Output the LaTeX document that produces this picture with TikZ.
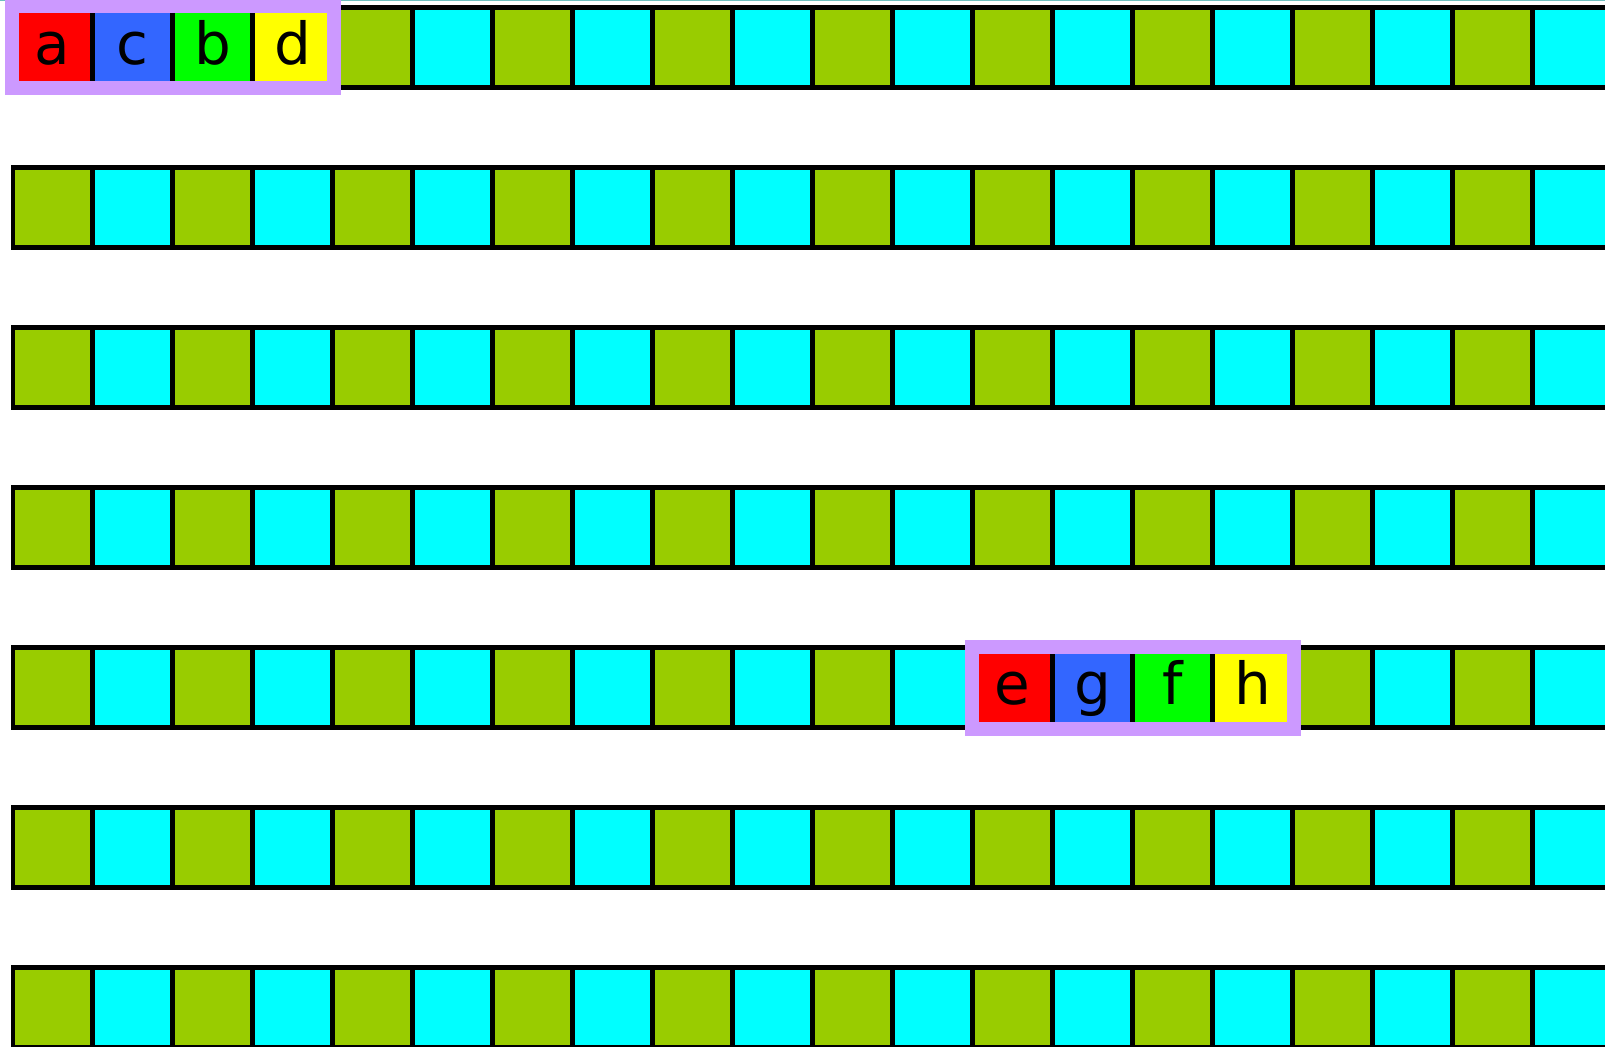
\documentclass[tikz,border=0pt]{standalone}
\usepackage{fontspec}
\setmainfont{DejaVu Sans}
\definecolor{cellgreen}{RGB}{153,204,0}
\definecolor{cellcyan}{RGB}{0,255,255}
\definecolor{framelav}{RGB}{204,153,255}
\definecolor{lred}{RGB}{255,0,0}
\definecolor{lblue}{RGB}{51,102,255}
\definecolor{lgreen}{RGB}{0,255,0}
\definecolor{lyellow}{RGB}{255,255,0}
\definecolor{topteal}{RGB}{110,190,190}
\tikzset{
  lett/.style={anchor=base, inner sep=0pt, text=black, font=\fontsize{58}{60}\selectfont},
  hiframe/.style={draw=framelav, line width=14pt},
}
\begin{document}
\begin{tikzpicture}[x=1pt,y=-1pt]
\useasboundingbox (0,0) rectangle (1605,1046);
\clip (0,0) rectangle (1605,1046);
\fill[topteal] (0,0) rectangle (1605,1.2);
\foreach \r in {0,...,6} {
  \pgfmathsetmacro\rowy{10+160*\r}
  \fill[black] (10.5,\rowy-4.7) rectangle (1615,\rowy+79.6);
  \foreach \i in {0,2,...,18} {
    \fill[cellgreen] (15+80*\i,\rowy) rectangle +(75,75);
  }
  \foreach \i in {1,3,...,19} {
    \fill[cellcyan] (15+80*\i,\rowy) rectangle +(75,75);
  }
}
% first highlighted group (row 0, cells 0-3)
\foreach \j/\col/\t in {0/lred/a,1/lblue/c,2/lgreen/b,3/lyellow/d} {
  \fill[\col] (15+80*\j,10) rectangle +(75,75);
  \node[lett] (L\t) at (52.5+80*\j,64.5) {\t};
}
\draw[hiframe] (11.5,6.5) rectangle (333.5,88.5);
% second highlighted group (row 4, cells 12-15)
\foreach \j/\col/\t in {12/lred/e,13/lblue/g,14/lgreen/f,15/lyellow/h} {
  \fill[\col] (15+80*\j,650) rectangle +(75,75);
  \node[lett] (L\t) at (52.5+80*\j,704.5) {\t};
}
\draw[hiframe] (971.5,646.5) rectangle (1293.5,728.5);
\end{tikzpicture}
\end{document}
